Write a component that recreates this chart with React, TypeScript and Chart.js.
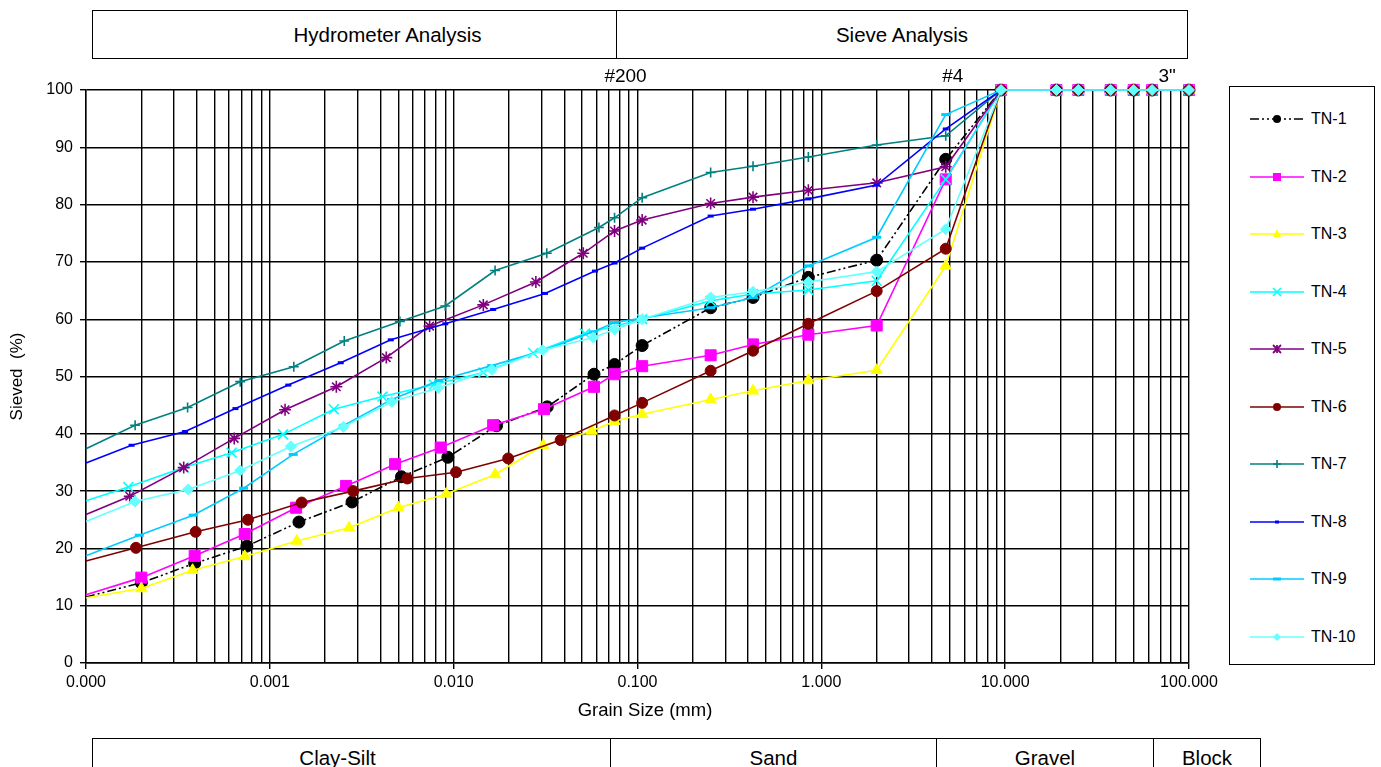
import React, { useEffect, useRef } from 'react';
import { Chart, registerables } from 'chart.js';

Chart.register(...registerables);

const FONT = '"Liberation Sans", Arial, Helvetica, sans-serif';

// ---------- data ----------
const SERIES_NAMES = ['TN-1', 'TN-2', 'TN-3', 'TN-4', 'TN-5', 'TN-6', 'TN-7', 'TN-8', 'TN-9', 'TN-10'];

// sieve openings (mm): #200, #140, #60, #40, #20, #10, #4, 3/8", 3/4", 1", 1.5", 2", 2.5", 4"
const SIEVE_SIZES = [0.075, 0.106, 0.25, 0.425, 0.85, 2, 4.75, 9.5, 19, 25, 37.5, 50, 63, 100];

// hydrometer grain diameters (mm) and percent passing
const TN1_HYD_SIZES = [0.0001, 0.0002, 0.00039, 0.00075, 0.00144, 0.0028, 0.0052, 0.0093, 0.0171, 0.0323, 0.058];
const TN1_HYD_PASS = [11.5, 14.0, 17.4, 20.4, 24.6, 28.1, 32.5, 35.9, 41.4, 44.7, 50.4];
const TN1_SIEVE_PASS = [52.1, 55.4, 62.0, 63.8, 67.3, 70.3, 87.9, 100, 100, 100, 100, 100, 100, 100];

const TN2_HYD_SIZES = [0.0001, 0.0002, 0.00039, 0.00073, 0.00139, 0.0026, 0.0048, 0.0085, 0.0164, 0.031, 0.058];
const TN2_HYD_PASS = [11.9, 14.9, 18.7, 22.5, 27.1, 30.9, 34.7, 37.6, 41.5, 44.3, 48.2];
const TN2_SIEVE_PASS = [50.4, 51.8, 53.7, 55.6, 57.3, 58.9, 84.4, 100, 100, 100, 100, 100, 100, 100];

const TN3_HYD_SIZES = [0.0001, 0.0002, 0.00038, 0.00073, 0.0014, 0.0027, 0.005, 0.0091, 0.0168, 0.0307, 0.0564];
const TN3_HYD_PASS = [11.4, 13.0, 16.2, 18.6, 21.3, 23.6, 27.1, 29.5, 32.9, 38.0, 40.5];
const TN3_SIEVE_PASS = [42.2, 43.4, 46.0, 47.5, 49.3, 51.1, 69.3, 100, 100, 100, 100, 100, 100, 100];

const TN4_HYD_SIZES = [0.0001, 0.00017, 0.00034, 0.00062, 0.00118, 0.00223, 0.0041, 0.0078, 0.0145, 0.0271, 0.0518];
const TN4_HYD_PASS = [28.3, 30.7, 34.1, 36.7, 39.9, 44.3, 46.5, 48.6, 50.7, 54.1, 57.5];
const TN4_SIEVE_PASS = [null, 60.0, 63.2, 64.4, 65.1, 66.7, 84.4, 100, 100, 100, 100, 100, 100, 100];

const TN5_HYD_SIZES = [0.0001, 0.000173, 0.00034, 0.00064, 0.00121, 0.0023, 0.0043, 0.0074, 0.0145, 0.028, 0.0507];
const TN5_HYD_PASS = [25.9, 29.1, 34.1, 39.2, 44.2, 48.2, 53.3, 58.8, 62.5, 66.5, 71.5];
const TN5_SIEVE_PASS = [75.4, 77.3, 80.2, 81.3, 82.5, 83.8, 86.6, 100, 100, 100, 100, 100, 100, 100];

const TN6_HYD_SIZES = [0.0001, 0.000187, 0.000395, 0.00076, 0.00149, 0.00284, 0.0056, 0.0103, 0.0198, 0.0382];
const TN6_HYD_PASS = [17.8, 20.1, 22.9, 25.0, 28.0, 30.0, 32.2, 33.3, 35.7, 38.9];
const TN6_SIEVE_PASS = [43.2, 45.4, 51.0, 54.5, 59.2, 64.9, 72.3, 100, 100, 100, 100, 100, 100, 100];

const TN7_HYD_SIZES = [0.0001, 0.000185, 0.000357, 0.00069, 0.00135, 0.00254, 0.0051, 0.009, 0.0168, 0.0321, 0.0617];
const TN7_HYD_PASS = [37.4, 41.5, 44.6, 49.1, 51.7, 56.2, 59.6, 62.3, 68.5, 71.5, 76.0];
const TN7_SIEVE_PASS = [77.7, 81.2, 85.6, 86.7, 88.3, 90.4, 92.0, 100, 100, 100, 100, 100, 100, 100];

const TN8_HYD_SIZES = [0.0001, 0.000177, 0.000346, 0.00065, 0.00126, 0.00243, 0.00455, 0.009, 0.0164, 0.0314, 0.0587];
const TN8_HYD_PASS = [34.9, 38.0, 40.4, 44.4, 48.5, 52.4, 56.4, 59.2, 61.7, 64.5, 68.4];
const TN8_SIEVE_PASS = [69.8, 72.4, 78.0, 79.2, 81.0, 83.4, 93.2, 100, 100, 100, 100, 100, 100, 100];

const TN9_HYD_SIZES = [0.0001, 0.000195, 0.000383, 0.00072, 0.00134, 0.00251, 0.0046, 0.0083, 0.0161, 0.0305, 0.0575];
const TN9_HYD_PASS = [18.7, 22.3, 25.8, 30.5, 36.4, 41.4, 46.0, 49.3, 51.9, 54.5, 57.8];
const TN9_SIEVE_PASS = [59.4, 60.2, 62.0, 63.8, 69.3, 74.3, 95.7, 100, 100, 100, 100, 100, 100, 100];

const TN10_HYD_SIZES = [0.0001, 0.000185, 0.00036, 0.00069, 0.0013, 0.00251, 0.0046, 0.00825, 0.0161, 0.0305, 0.0575];
const TN10_HYD_PASS = [24.7, 28.2, 30.3, 33.6, 37.8, 41.2, 45.6, 48.0, 51.2, 54.6, 56.8];
const TN10_SIEVE_PASS = [58.2, 60.0, 63.8, 64.8, 66.5, 68.3, 75.7, 100, 100, 100, 100, 100, 100, 100];

const HYD_SIZES = [TN1_HYD_SIZES, TN2_HYD_SIZES, TN3_HYD_SIZES, TN4_HYD_SIZES, TN5_HYD_SIZES, TN6_HYD_SIZES, TN7_HYD_SIZES, TN8_HYD_SIZES, TN9_HYD_SIZES, TN10_HYD_SIZES];
const HYD_PASS = [TN1_HYD_PASS, TN2_HYD_PASS, TN3_HYD_PASS, TN4_HYD_PASS, TN5_HYD_PASS, TN6_HYD_PASS, TN7_HYD_PASS, TN8_HYD_PASS, TN9_HYD_PASS, TN10_HYD_PASS];
const SIEVE_PASS = [TN1_SIEVE_PASS, TN2_SIEVE_PASS, TN3_SIEVE_PASS, TN4_SIEVE_PASS, TN5_SIEVE_PASS, TN6_SIEVE_PASS, TN7_SIEVE_PASS, TN8_SIEVE_PASS, TN9_SIEVE_PASS, TN10_SIEVE_PASS];

// axis
const X_MIN = 0.0001;
const X_MAX = 100;
const X_MAJOR_VALUES = [0.0001, 0.001, 0.01, 0.1, 1, 10, 100];
const X_TICK_LABELS = ['0.000', '0.001', '0.010', '0.100', '1.000', '10.000', '100.000'];
const Y_MIN = 0;
const Y_MAX = 100;
const Y_STEP = 10;

// sieve annotations above the plot
const SIEVE_MARK_LABELS = ['#200', '#4', '3"'];
const SIEVE_MARK_SIZES = [0.075, 4.75, 75];

// header / footer texts
const TOP_BANDS = ['Hydrometer Analysis', 'Sieve Analysis'];
const BOTTOM_BANDS = ['Clay-Silt', 'Sand', 'Gravel', 'Block'];

// ---------- styles ----------
const SERIES_COLORS = ['#000000', '#FF00FF', '#FFFF00', '#00FFFF', '#800080', '#800000', '#008080', '#0000FF', '#00CCFF', '#66FFFF'];
const POINT_STYLES = ['circle', 'rect', 'triangle', 'crossRot', 'star', 'circle', 'cross', 'line', 'line', 'rectRot'];
const POINT_RADII = [6, 7.8, 6.5, 7, 6, 5.5, 5, 3, 4.5, 5.5];
const POINT_BORDER = [1, 1, 1, 1.6, 1.6, 1, 1.6, 3, 3, 1];
const SIEVE_MARK_DX = [11, 7, 1];

// grid values: 1..9 x 10^e for each decade
const X_GRID_VALUES: number[] = (() => {
  const out: number[] = [];
  for (let e = -4; e < 2; e++) {
    for (let m = 1; m <= 9; m++) out.push(parseFloat((m * Math.pow(10, e)).toPrecision(6)));
  }
  out.push(100);
  return out;
})();

function majorIndex(v: number): number {
  return X_MAJOR_VALUES.findIndex((m) => Math.abs(Math.log10(v) - Math.log10(m)) < 1e-6);
}

const sieveLabelPlugin = {
  id: 'sieveLabels',
  afterDraw(chart: any) {
    const { ctx, chartArea, scales } = chart;
    ctx.save();
    ctx.fillStyle = '#000';
    ctx.font = `19px ${FONT}`;
    ctx.textAlign = 'center';
    ctx.textBaseline = 'middle';
    SIEVE_MARK_LABELS.forEach((t, i) => {
      const x = scales.x.getPixelForValue(SIEVE_MARK_SIZES[i]) + SIEVE_MARK_DX[i];
      ctx.fillText(t, x, chartArea.top - 13);
    });
    ctx.restore();
  },
};

function LegendMarker({ style, color }: { style: string; color: string }) {
  const r = 4;
  switch (style) {
    case 'circle':
      return <circle cx={0} cy={0} r={r} fill={color} />;
    case 'rect':
      return <rect x={-r} y={-r} width={2 * r} height={2 * r} fill={color} />;
    case 'triangle':
      return <polygon points={`0,${-r - 1} ${r},${r - 1} ${-r},${r - 1}`} fill={color} />;
    case 'crossRot':
      return (
        <g stroke={color} strokeWidth={1.6}>
          <line x1={-r} y1={-r} x2={r} y2={r} />
          <line x1={-r} y1={r} x2={r} y2={-r} />
        </g>
      );
    case 'star':
      return (
        <g stroke={color} strokeWidth={1.8}>
          <line x1={-r} y1={-r} x2={r} y2={r} />
          <line x1={-r} y1={r} x2={r} y2={-r} />
          <line x1={0} y1={-r} x2={0} y2={r} />
        </g>
      );
    case 'cross':
      return (
        <g stroke={color} strokeWidth={1.6}>
          <line x1={-r} y1={0} x2={r} y2={0} />
          <line x1={0} y1={-r} x2={0} y2={r} />
        </g>
      );
    case 'line':
      return <line x1={color === '#0000FF' ? -2 : -4} y1={0} x2={color === '#0000FF' ? 2 : 4} y2={0} stroke={color} strokeWidth={3} />;
    case 'rectRot':
      return <polygon points={`0,${-r} ${r},0 0,${r} ${-r},0`} fill={color} />;
    default:
      return null;
  }
}

export default function App() {
  const canvasRef = useRef<HTMLCanvasElement>(null);

  useEffect(() => {
    const datasets = SERIES_NAMES.map((name, i) => {
      const hyd = HYD_SIZES[i].map((d, k) => ({ x: d, y: HYD_PASS[i][k] }));
      const sieve = SIEVE_SIZES.map((d, k) => ({ x: d, y: SIEVE_PASS[i][k] }));
      const color = SERIES_COLORS[i];
      const r = POINT_RADII[i];
      return {
        label: name,
        data: hyd.concat(sieve as any),
        borderColor: color,
        backgroundColor: color,
        borderWidth: 1.6,
        borderDash: i === 0 ? [9, 3, 2, 3, 2, 3] : [],
        pointStyle: POINT_STYLES[i],
        pointRadius: (c: any) => (c.dataIndex === 0 ? 0 : r),
        pointHoverRadius: (c: any) => (c.dataIndex === 0 ? 0 : r),
        pointBorderWidth: POINT_BORDER[i],
        pointBackgroundColor: color,
        pointBorderColor: color,
        spanGaps: true,
        clip: false as any,
        tension: 0,
        order: SERIES_NAMES.length - i,
      };
    });

    const chart = new Chart(canvasRef.current as HTMLCanvasElement, {
      type: 'line',
      data: { datasets: datasets as any },
      options: {
        animation: false,
        responsive: false,
        maintainAspectRatio: false,
        events: [],
        layout: { padding: { left: 0, top: 90, right: 192, bottom: 0 } },
        plugins: {
          legend: { display: false },
          tooltip: { enabled: false },
          title: { display: false },
        },
        scales: {
          x: {
            type: 'logarithmic',
            min: X_MIN,
            max: X_MAX,
            afterBuildTicks: (s: any) => {
              s.ticks = X_GRID_VALUES.map((v) => ({ value: v }));
            },
            afterFit: (s: any) => {
              s.height = 104;
            },
            ticks: {
              autoSkip: false,
              maxRotation: 0,
              minRotation: 0,
              color: '#000',
              padding: 4,
              font: { size: 16, family: FONT },
              callback: (v: any) => {
                const idx = majorIndex(Number(v));
                return idx >= 0 ? X_TICK_LABELS[idx] : '';
              },
            },
            grid: {
              color: '#000',
              lineWidth: 1.4,
              tickLength: 6,
              tickColor: (c: any) => (c.tick && majorIndex(c.tick.value) >= 0 ? '#000' : 'rgba(0,0,0,0)'),
            },
            border: { color: '#000', width: 1.4 },
          },
          y: {
            min: Y_MIN,
            max: Y_MAX,
            afterFit: (s: any) => {
              s.width = 86;
            },
            ticks: {
              stepSize: Y_STEP,
              color: '#000',
              padding: 7,
              font: { size: 16, family: FONT },
            },
            grid: { color: '#000', lineWidth: 1.4, tickLength: 6, tickColor: '#000' },
            border: { color: '#000', width: 1.4 },
            title: {
              display: true,
              text: 'Sieved  (%)',
              color: '#000',
              font: { size: 17, family: FONT },
              padding: { top: 7, bottom: 0 },
            },
          },
        },
      },
      plugins: [sieveLabelPlugin],
    });
    return () => chart.destroy();
  }, []);

  const boxBase: React.CSSProperties = {
    position: 'absolute',
    boxSizing: 'border-box',
    border: '1px solid #000',
    display: 'flex',
    alignItems: 'center',
    justifyContent: 'center',
    fontSize: 20.5,
    color: '#000',
    background: '#fff',
  };

  return (
    <div
      style={{
        position: 'fixed',
        left: 0,
        top: 0,
        width: 1381,
        height: 767,
        overflow: 'hidden',
        background: '#fff',
        fontFamily: FONT,
      }}
    >
      <canvas
        ref={canvasRef}
        width={1381}
        height={767}
        style={{ position: 'absolute', left: 0, top: 0, width: 1381, height: 767 }}
      />

      {/* top bands */}
      <div style={{ ...boxBase, left: 92, top: 10, width: 525, height: 49, paddingLeft: 66 }}>{TOP_BANDS[0]}</div>
      <div style={{ ...boxBase, left: 616, top: 10, width: 572, height: 49 }}>{TOP_BANDS[1]}</div>

      {/* x title */}
      <div
        style={{
          position: 'absolute',
          left: 545,
          top: 699,
          width: 200,
          textAlign: 'center',
          fontSize: 18.5,
          color: '#000',
        }}
      >
        Grain Size (mm)
      </div>

      {/* bottom bands */}
      <div style={{ ...boxBase, left: 92, top: 738, width: 519, height: 40, paddingRight: 28 }}>{BOTTOM_BANDS[0]}</div>
      <div style={{ ...boxBase, left: 610, top: 738, width: 327, height: 40 }}>{BOTTOM_BANDS[1]}</div>
      <div style={{ ...boxBase, left: 936, top: 738, width: 218, height: 40 }}>{BOTTOM_BANDS[2]}</div>
      <div style={{ ...boxBase, left: 1153, top: 738, width: 108, height: 40 }}>{BOTTOM_BANDS[3]}</div>

      {/* legend */}
      <div
        style={{
          position: 'absolute',
          left: 1229,
          top: 86,
          width: 146,
          height: 579,
          boxSizing: 'border-box',
          border: '1px solid #000',
          background: '#fff',
        }}
      >
        {SERIES_NAMES.map((name, i) => (
          <div
            key={name}
            style={{
              position: 'absolute',
              left: 20,
              top: 32 + i * 57.5 - 10,
              height: 20,
              display: 'flex',
              alignItems: 'center',
            }}
          >
            <svg width={54} height={20} style={{ display: 'block' }}>
              <g transform="translate(0,10)">
                <line
                  x1={0}
                  y1={0}
                  x2={54}
                  y2={0}
                  stroke={SERIES_COLORS[i]}
                  strokeWidth={1.6}
                  strokeDasharray={i === 0 ? '9 3 2 3 2 3' : undefined}
                />
              </g>
              <g transform="translate(27,10)">
                <LegendMarker style={POINT_STYLES[i]} color={SERIES_COLORS[i]} />
              </g>
            </svg>
            <span style={{ marginLeft: 7, fontSize: 16, color: '#000', whiteSpace: 'nowrap' }}>{name}</span>
          </div>
        ))}
      </div>
    </div>
  );
}
